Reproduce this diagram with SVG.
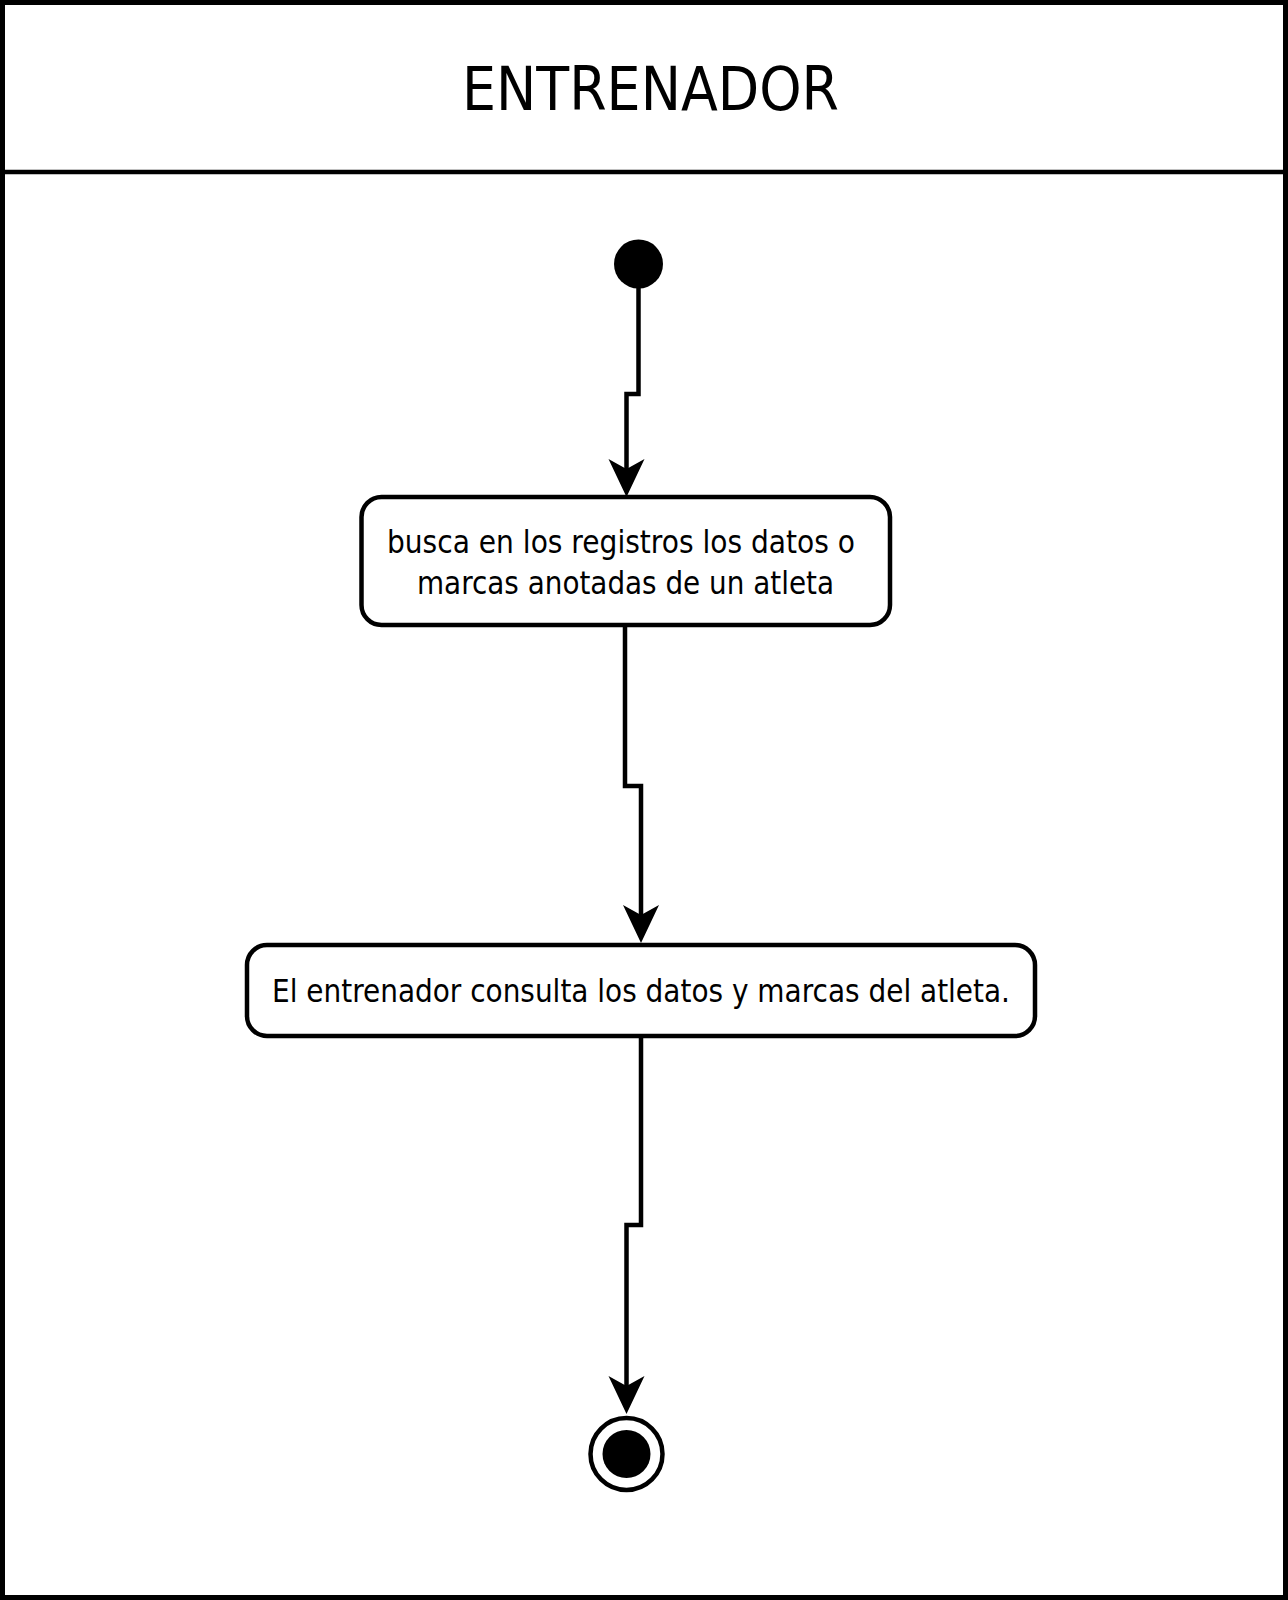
<svg xmlns="http://www.w3.org/2000/svg" width="1288" height="1600" viewBox="0 0 1288 1600">
  <style>
    .lane { fill: #ffffff; stroke: #000000; stroke-width: 5; }
    .act { fill: #ffffff; stroke: #000000; stroke-width: 4.5; }
    .lbl { font-family: "DejaVu Sans", "Liberation Sans", sans-serif; font-size: 32px; fill: #000000; }
    .title { font-family: "DejaVu Sans", "Liberation Sans", sans-serif; font-size: 61px; fill: #000000; }
    .edge { fill: none; stroke: #000000; stroke-width: 4.5; }
  </style>
  <defs>
    <marker id="arrow" markerUnits="userSpaceOnUse" markerWidth="42" markerHeight="42" viewBox="0 -21 42 42" refX="10" refY="0" orient="auto">
      <path d="M38 0 L0 -18 L10 0 L0 18 Z" fill="#000000"/>
    </marker>
  </defs>
  <rect width="1288" height="1600" fill="#ffffff"/>
  <g id="lane">
    <rect class="lane" x="2.5" y="2.5" width="1283" height="1595"/>
    <line x1="2" y1="172" x2="1286" y2="172" stroke="#000000" stroke-width="4.5"/>
    <text class="title" x="462" y="110" textLength="377" lengthAdjust="spacingAndGlyphs">ENTRENADOR</text>
  </g>
  <g id="start">
    <circle cx="638.5" cy="264" r="24.5" fill="#000000"/>
  </g>
  <g id="act1">
    <rect class="act" x="361.5" y="497" width="528.5" height="128" rx="20" ry="20"/>
    <text class="lbl" x="387" y="553" textLength="468" lengthAdjust="spacingAndGlyphs">busca en los registros los datos o</text>
    <text class="lbl" x="417" y="594" textLength="417" lengthAdjust="spacingAndGlyphs">marcas anotadas de un atleta</text>
  </g>
  <g id="act2">
    <rect class="act" x="247" y="945" width="788" height="91" rx="20" ry="20"/>
    <text class="lbl" x="272" y="1002" textLength="738" lengthAdjust="spacingAndGlyphs">El entrenador consulta los datos y marcas del atleta.</text>
  </g>
  <g id="end">
    <circle cx="626.5" cy="1454" r="36" fill="#ffffff" stroke="#000000" stroke-width="4.5"/>
    <circle cx="626.5" cy="1454" r="24" fill="#000000"/>
  </g>
  <g id="connectors">
    <path class="edge" d="M638.5 288 V394 H626.5 V469" marker-end="url(#arrow)"/>
    <path class="edge" d="M625 627 V786 H641 V915" marker-end="url(#arrow)"/>
    <path class="edge" d="M641 1035 V1225 H626.5 V1386" marker-end="url(#arrow)"/>
  </g>
</svg>
